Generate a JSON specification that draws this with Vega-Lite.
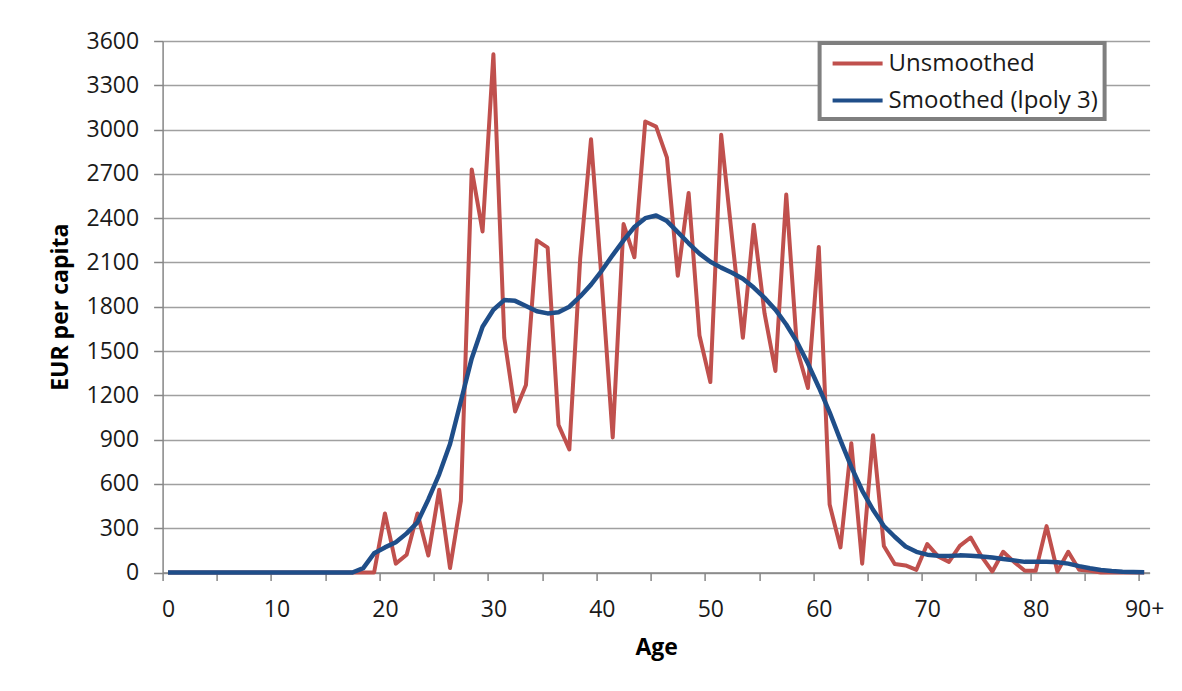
{
  "$schema": "https://vega.github.io/schema/vega-lite/v6.json",
  "width": 987,
  "height": 531.5,
  "autosize": {"type": "none"},
  "padding": {"left": 162.6, "top": 41, "right": 32.4, "bottom": 118.5},
  "background": "white",
  "config": {"view": {"stroke": null}, "font": "Open Sans", "legend": {"strokeWidth": 4}},
  "data": {
    "values": [
      {"age": 0, "unsmoothed": 0, "smoothed": 0},
      {"age": 1, "unsmoothed": 0, "smoothed": 0},
      {"age": 2, "unsmoothed": 0, "smoothed": 0},
      {"age": 3, "unsmoothed": 0, "smoothed": 0},
      {"age": 4, "unsmoothed": 0, "smoothed": 0},
      {"age": 5, "unsmoothed": 0, "smoothed": 0},
      {"age": 6, "unsmoothed": 0, "smoothed": 0},
      {"age": 7, "unsmoothed": 0, "smoothed": 0},
      {"age": 8, "unsmoothed": 0, "smoothed": 0},
      {"age": 9, "unsmoothed": 0, "smoothed": 0},
      {"age": 10, "unsmoothed": 0, "smoothed": 0},
      {"age": 11, "unsmoothed": 0, "smoothed": 0},
      {"age": 12, "unsmoothed": 0, "smoothed": 0},
      {"age": 13, "unsmoothed": 0, "smoothed": 0},
      {"age": 14, "unsmoothed": 0, "smoothed": 0},
      {"age": 15, "unsmoothed": 0, "smoothed": 0},
      {"age": 16, "unsmoothed": 0, "smoothed": 0},
      {"age": 17, "unsmoothed": 0, "smoothed": 0},
      {"age": 18, "unsmoothed": 0, "smoothed": 30},
      {"age": 19, "unsmoothed": 0, "smoothed": 130},
      {"age": 20, "unsmoothed": 400, "smoothed": 170},
      {"age": 21, "unsmoothed": 60, "smoothed": 205},
      {"age": 22, "unsmoothed": 120, "smoothed": 265},
      {"age": 23, "unsmoothed": 400, "smoothed": 340},
      {"age": 24, "unsmoothed": 115, "smoothed": 495},
      {"age": 25, "unsmoothed": 560, "smoothed": 665},
      {"age": 26, "unsmoothed": 30, "smoothed": 870},
      {"age": 27, "unsmoothed": 485, "smoothed": 1160},
      {"age": 28, "unsmoothed": 2730, "smoothed": 1450},
      {"age": 29, "unsmoothed": 2310, "smoothed": 1665},
      {"age": 30, "unsmoothed": 3510, "smoothed": 1780},
      {"age": 31, "unsmoothed": 1590, "smoothed": 1845},
      {"age": 32, "unsmoothed": 1090, "smoothed": 1840},
      {"age": 33, "unsmoothed": 1270, "smoothed": 1805},
      {"age": 34, "unsmoothed": 2250, "smoothed": 1770},
      {"age": 35, "unsmoothed": 2200, "smoothed": 1755},
      {"age": 36, "unsmoothed": 1000, "smoothed": 1762},
      {"age": 37, "unsmoothed": 833, "smoothed": 1800},
      {"age": 38, "unsmoothed": 2125, "smoothed": 1870},
      {"age": 39, "unsmoothed": 2935, "smoothed": 1950},
      {"age": 40, "unsmoothed": 1960, "smoothed": 2045},
      {"age": 41, "unsmoothed": 915, "smoothed": 2150},
      {"age": 42, "unsmoothed": 2360, "smoothed": 2250},
      {"age": 43, "unsmoothed": 2135, "smoothed": 2340},
      {"age": 44, "unsmoothed": 3055, "smoothed": 2400},
      {"age": 45, "unsmoothed": 3020, "smoothed": 2418},
      {"age": 46, "unsmoothed": 2810, "smoothed": 2380},
      {"age": 47, "unsmoothed": 2010, "smoothed": 2305},
      {"age": 48, "unsmoothed": 2570, "smoothed": 2230},
      {"age": 49, "unsmoothed": 1605, "smoothed": 2160},
      {"age": 50, "unsmoothed": 1290, "smoothed": 2105},
      {"age": 51, "unsmoothed": 2965, "smoothed": 2065},
      {"age": 52, "unsmoothed": 2270, "smoothed": 2030},
      {"age": 53, "unsmoothed": 1590, "smoothed": 1990},
      {"age": 54, "unsmoothed": 2355, "smoothed": 1930},
      {"age": 55, "unsmoothed": 1755, "smoothed": 1860},
      {"age": 56, "unsmoothed": 1365, "smoothed": 1780},
      {"age": 57, "unsmoothed": 2560, "smoothed": 1680},
      {"age": 58, "unsmoothed": 1510, "smoothed": 1560},
      {"age": 59, "unsmoothed": 1250, "smoothed": 1415},
      {"age": 60, "unsmoothed": 2205, "smoothed": 1255},
      {"age": 61, "unsmoothed": 460, "smoothed": 1085},
      {"age": 62, "unsmoothed": 170, "smoothed": 895},
      {"age": 63, "unsmoothed": 875, "smoothed": 715},
      {"age": 64, "unsmoothed": 60, "smoothed": 555},
      {"age": 65, "unsmoothed": 930, "smoothed": 425},
      {"age": 66, "unsmoothed": 180, "smoothed": 315},
      {"age": 67, "unsmoothed": 58, "smoothed": 242},
      {"age": 68, "unsmoothed": 48, "smoothed": 176},
      {"age": 69, "unsmoothed": 18, "smoothed": 140},
      {"age": 70, "unsmoothed": 193, "smoothed": 121},
      {"age": 71, "unsmoothed": 109, "smoothed": 114},
      {"age": 72, "unsmoothed": 72, "smoothed": 111},
      {"age": 73, "unsmoothed": 180, "smoothed": 116},
      {"age": 74, "unsmoothed": 237, "smoothed": 114},
      {"age": 75, "unsmoothed": 109, "smoothed": 109},
      {"age": 76, "unsmoothed": 7, "smoothed": 101},
      {"age": 77, "unsmoothed": 140, "smoothed": 92},
      {"age": 78, "unsmoothed": 72, "smoothed": 82},
      {"age": 79, "unsmoothed": 12, "smoothed": 72},
      {"age": 80, "unsmoothed": 12, "smoothed": 72},
      {"age": 81, "unsmoothed": 314, "smoothed": 72},
      {"age": 82, "unsmoothed": 7, "smoothed": 70},
      {"age": 83, "unsmoothed": 140, "smoothed": 60},
      {"age": 84, "unsmoothed": 19, "smoothed": 43},
      {"age": 85, "unsmoothed": 12, "smoothed": 29},
      {"age": 86, "unsmoothed": 0, "smoothed": 17},
      {"age": 87, "unsmoothed": 0, "smoothed": 10},
      {"age": 88, "unsmoothed": 0, "smoothed": 5},
      {"age": 89, "unsmoothed": 0, "smoothed": 3},
      {"age": 90, "unsmoothed": 0, "smoothed": 2}
    ]
  },
  "transform": [
    {"fold": ["unsmoothed", "smoothed"], "as": ["series", "eur"]}
  ],
  "encoding": {
    "x": {
      "field": "age",
      "type": "quantitative",
      "scale": {"domain": [-0.5, 90.5], "nice": false, "zero": false},
      "axis": {
        "values": [0, 5, 10, 15, 20, 25, 30, 35, 40, 45, 50, 55, 60, 65, 70, 75, 80, 85, 90],
        "tickOffset": -5.42,
        "labelOffset": 5.42,
        "labelExpr": "datum.value % 10 === 0 ? (datum.value === 90 ? '90+' : datum.label) : ''",
        "grid": false,
        "tickSize": 8,
        "tickColor": "#868686",
        "tickWidth": 1.5,
        "domainColor": "#868686",
        "domainWidth": 1.5,
        "labelFont": "Open Sans",
        "labelFontSize": 23,
        "labelColor": "#1a1a1a",
        "labelPadding": 17.5,
        "labelFlush": false,
        "labelOverlap": false,
        "labelBound": false,
        "title": "Age",
        "titleFont": "Open Sans",
        "titleFontWeight": "bold",
        "titleFontSize": 23,
        "titleColor": "#000000",
        "titlePadding": 15
      }
    },
    "y": {
      "field": "eur",
      "type": "quantitative",
      "scale": {"domain": [0, 3600], "nice": false},
      "axis": {
        "values": [0, 300, 600, 900, 1200, 1500, 1800, 2100, 2400, 2700, 3000, 3300, 3600],
        "format": "d",
        "grid": true,
        "gridColor": "#A0A0A0",
        "gridWidth": 1.5,
        "tickSize": 9,
        "tickColor": "#868686",
        "tickWidth": 1.5,
        "domainColor": "#868686",
        "domainWidth": 1.5,
        "labelFont": "Open Sans",
        "labelFontSize": 23,
        "labelColor": "#1a1a1a",
        "labelPadding": 15,
        "title": "EUR per capita",
        "titleFont": "Open Sans",
        "titleFontWeight": "bold",
        "titleFontSize": 23,
        "titleColor": "#000000",
        "titlePadding": 13
      }
    },
    "color": {
      "field": "series",
      "type": "nominal",
      "scale": {"domain": ["unsmoothed", "smoothed"], "range": ["#C0504D", "#1F4E89"]},
      "legend": {
        "orient": "none",
        "legendX": 657,
        "legendY": 2,
        "title": null,
        "symbolType": "M-0.6,0H3.4",
        "symbolSize": 625,
        "symbolStrokeWidth": 4,
        "labelFont": "Open Sans",
        "labelFontSize": 24,
        "labelColor": "#1a1a1a",
        "labelOffset": 34,
        "labelLimit": 400,
        "labelExpr": "datum.label === 'smoothed' ? 'Smoothed (lpoly 3)' : 'Unsmoothed'",
        "padding": 6,
        "rowPadding": 10,
        "strokeColor": "#7F7F7F",
        "fillColor": "white"
      }
    }
  },
  "layer": [
    {
      "transform": [{"filter": "datum.series === 'unsmoothed'"}],
      "mark": {"type": "line", "strokeWidth": 4, "strokeJoin": "round"}
    },
    {
      "transform": [{"filter": "datum.series === 'smoothed'"}],
      "mark": {"type": "line", "strokeWidth": 4.5, "strokeJoin": "round"}
    }
  ]
}
